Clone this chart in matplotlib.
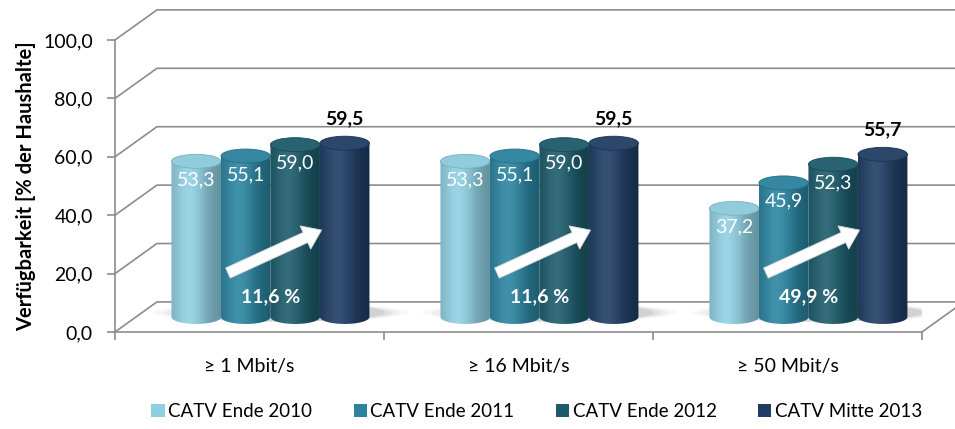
import matplotlib.pyplot as plt
import numpy as np
from matplotlib.patches import Ellipse, Polygon, Patch
from matplotlib.colors import to_rgb

plt.rcParams['font.family'] = ['Lato', 'DejaVu Sans']

categories = ['≥ 1 Mbit/s', '≥ 16 Mbit/s', '≥ 50 Mbit/s']
series = ['CATV Ende 2010', 'CATV Ende 2011', 'CATV Ende 2012', 'CATV Mitte 2013']
catv_2010 = [53.3, 53.3, 37.2]
catv_2011 = [55.1, 55.1, 45.9]
catv_2012 = [59.0, 59.0, 52.3]
catv_2013 = [59.5, 59.5, 55.7]
growth = ['11,6 %', '11,6 %', '49,9 %']
yticks = [0, 20, 40, 60, 80, 100]

data = [catv_2010, catv_2011, catv_2012, catv_2013]
colors = ['#8fcfe2', '#2a84a0', '#1c5b6b', '#1f3d64']
grid_col = '#8c8c8c'


def fmt(v):
    return f'{v:.1f}'.replace('.', ',')


def shade_img(col, n=64):
    # soft horizontal gradient to fake a lit cylinder
    base = np.array(to_rgb(col))
    t = np.linspace(0, 1, n)
    k = np.exp(-((t - 0.35) / 0.3) ** 2)
    f = 0.82 + 0.18 * k - 0.12 * np.clip(t - 0.6, 0, 1) / 0.4
    img = base[None, :] * f[:, None] + (1 - base[None, :]) * 0.1 * k[:, None]
    return np.clip(img, 0, 1)[None, :, :]


fig = plt.figure(figsize=(9.55, 4.29), dpi=100)
ax = fig.add_axes([0.1204, 0.2261, 0.845, 0.6807])

# depth of the fake 3d box (back wall offset, in data units)
dx, dy = 0.156, 10.3
bw = 0.184      # cylinder width
cap_h = 4.8     # ellipse height of the caps

# back wall grid lines + floor
for v in yticks:
    ax.plot([-0.5, -0.5 + dx, 2.5 + dx], [v, v + dy, v + dy], color=grid_col,
            lw=1.2, clip_on=False, zorder=1)
ax.plot([2.5, 2.5 + dx], [0, dy], color=grid_col, lw=1.2, clip_on=False, zorder=1)

# shadows on the floor
for i in range(len(categories)):
    gx = i + dx / 2 + 0.04
    for w, a in [(0.95, 0.04), (0.88, 0.06), (0.82, 0.08), (0.77, 0.1)]:
        ax.add_patch(Ellipse((gx, dy / 2 + 1.5), w, dy * 0.6, fc='#505050', ec='none',
                             alpha=a, zorder=2))

# cylinders
base_y = dy / 2
for i in range(len(categories)):
    gx = i + dx / 2
    for j, vals in enumerate(data):
        v = vals[i]
        x0 = gx + (j - 2) * bw
        xc = x0 + bw / 2
        top = base_y + v
        z = 3 + j
        th = np.linspace(np.pi, 2 * np.pi, 60)
        pts = [(x0, top)] + list(zip(xc + bw / 2 * np.cos(th),
                                     base_y + cap_h / 2 * np.sin(th))) + [(x0 + bw, top)]
        body = Polygon(pts, closed=True, fc='none', ec='none', zorder=z)
        ax.add_patch(body)
        im = ax.imshow(shade_img(colors[j]), extent=[x0, x0 + bw, base_y - cap_h / 2, top],
                       aspect='auto', interpolation='bilinear', zorder=z)
        im.set_clip_path(body)
        c = np.array(to_rgb(colors[j]))
        ax.add_patch(Ellipse((xc, top), bw, cap_h, fc=np.clip(c * 0.97 + (1 - c) * 0.06, 0, 1),
                             ec=c * 0.85, lw=0.6, zorder=z + 0.5))
        if j < len(data) - 1:
            ax.text(xc, top - 6.3, fmt(v), color='white', fontsize=14, ha='center',
                    va='center', zorder=20)
        else:
            ax.text(xc, top + 8.5, fmt(v), color='black', fontsize=14, fontweight='bold',
                    ha='center', va='center', zorder=20)

    # growth arrow and label
    ax.annotate('', xy=(gx + 0.19, 34.9), xytext=(gx - 0.158, 20.2),
                arrowprops=dict(arrowstyle='simple,tail_width=0.5,head_width=1.15,head_length=0.8',
                                fc='white', ec='#d8d8d8', lw=0.6, mutation_scale=16,
                                shrinkA=0, shrinkB=0), zorder=25)
    ax.text(gx, 12.0, growth[i], color='white', fontsize=14, fontweight='bold',
            ha='center', va='center', zorder=25)

ax.set_xlim(-0.5, 2.5)
ax.set_ylim(0, 100)
ax.patch.set_visible(False)
for s in ['top', 'right']:
    ax.spines[s].set_visible(False)
for s in ['left', 'bottom']:
    ax.spines[s].set_color(grid_col)
    ax.spines[s].set_linewidth(1.2)

ax.set_yticks(yticks)
ax.set_yticklabels([fmt(v) for v in yticks], fontsize=14)
ax.tick_params(axis='y', length=6, width=1.2, color=grid_col, pad=10)
ax.set_xticks(range(len(categories)))
ax.set_xticklabels(categories, fontsize=14)
ax.set_xticks([-0.5, 0.5, 1.5, 2.5], minor=True)
ax.tick_params(axis='x', which='major', length=0, pad=19)
ax.tick_params(axis='x', which='minor', length=6, width=1.2, color=grid_col)

fig.text(0.027, 0.567, 'Verfügbarkeit [% der Haushalte]', rotation=90, fontsize=14.5,
         fontweight='bold', ha='center', va='center')

handles = [Patch(fc=c, ec='none') for c in colors]
fig.legend(handles, series, loc='center', bbox_to_anchor=(0.562, 0.04), ncol=4,
           frameon=False, fontsize=13.5, handlelength=0.7, handleheight=0.7,
           handletextpad=0.2, columnspacing=2.2)

fig.savefig('out.png', dpi=100)
